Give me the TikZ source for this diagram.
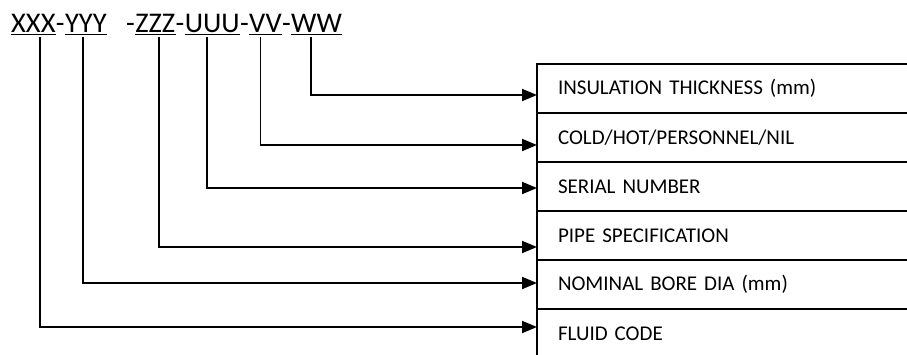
\documentclass[tikz,border=0pt]{standalone}
\usepackage{fontspec}
\setmainfont{Carlito}
\usetikzlibrary{arrows.meta,positioning}

\begin{document}
\begin{tikzpicture}[
  x=1pt,y=-1pt,
  seg/.style={inner sep=0pt,font=\fontsize{28.5}{30}\selectfont},
  row/.style={rectangle,draw,line width=1.6pt,minimum height=49pt,text width=338pt,inner xsep=21pt,inner ysep=0pt,outer sep=0pt,align=left,font=\fontsize{21}{23}\selectfont},
  uline/.style={line width=1.8pt},
  arr/.style={-{Triangle[length=15pt,width=12pt]},line width=1.9pt}
]
\clip (0,0) rectangle (907,354);
% line number code
\node[seg,anchor=base west] (xxx) at (11,32) {XXX};
\node[seg,anchor=base west] (h1) at (xxx.base east) {-};
\node[seg,anchor=base west] (yyy) at (h1.base east) {YYY};
\node[seg,anchor=base west] (h2) at ([xshift=19pt]yyy.base east) {-};
\node[seg,anchor=base west] (zzz) at (h2.base east) {ZZZ};
\node[seg,anchor=base west] (h3) at (zzz.base east) {-};
\node[seg,anchor=base west] (uuu) at (h3.base east) {UUU};
\node[seg,anchor=base west] (h4) at (uuu.base east) {-};
\node[seg,anchor=base west] (vv) at (h4.base east) {VV};
\node[seg,anchor=base west] (h5) at (vv.base east) {-};
\node[seg,anchor=base west] (ww) at (h5.base east) {WW};
\draw[uline] ([yshift=-2.5pt]xxx.base west)--([yshift=-2.5pt]xxx.base east);
\draw[uline] ([yshift=-2.5pt]yyy.base west)--([yshift=-2.5pt]yyy.base east);
\draw[uline] ([yshift=-2.5pt]zzz.base west)--([yshift=-2.5pt]zzz.base east);
\draw[uline] ([yshift=-2.5pt]uuu.base west)--([yshift=-2.5pt]uuu.base east);
\draw[uline] ([yshift=-2.5pt]vv.base west)--([yshift=-2.5pt]vv.base east);
\draw[uline] ([yshift=-2.5pt]ww.base west)--([yshift=-2.5pt]ww.base east);
% legend table
\node[row,anchor=north west] (ins) at (537,64) {INSULATION THICKNESS (mm)};
\node[row,below=0pt of ins] (cold) {COLD/HOT/PERSONNEL/NIL};
\node[row,below=0pt of cold] (serial) {SERIAL NUMBER};
\node[row,below=0pt of serial] (pipe) {PIPE SPECIFICATION};
\node[row,below=0pt of pipe] (bore) {NOMINAL BORE DIA (mm)};
\node[row,below=0pt of bore] (fluid) {FLUID CODE};
% leaders
\draw[arr] ([xshift=-6pt,yshift=-5pt]ww.base) |- ([yshift=-6.5pt]ins.west);
\draw[arr] ([xshift=-5pt,yshift=-5pt]vv.base) |- ([yshift=-7.5pt]cold.west);
\draw[arr] ([xshift=-5pt,yshift=-5pt]uuu.base) |- ([yshift=-1.5pt]serial.west);
\draw[arr] ([xshift=4pt,yshift=-5pt]zzz.base) |- ([yshift=-11.5pt]pipe.west);
\draw[arr] ([xshift=-3pt,yshift=-5pt]yyy.base) |- ([yshift=1.5pt]bore.west);
\draw[arr] ([xshift=7pt,yshift=-5pt]xxx.base) |- ([yshift=6.5pt]fluid.west);
\end{tikzpicture}
\end{document}
